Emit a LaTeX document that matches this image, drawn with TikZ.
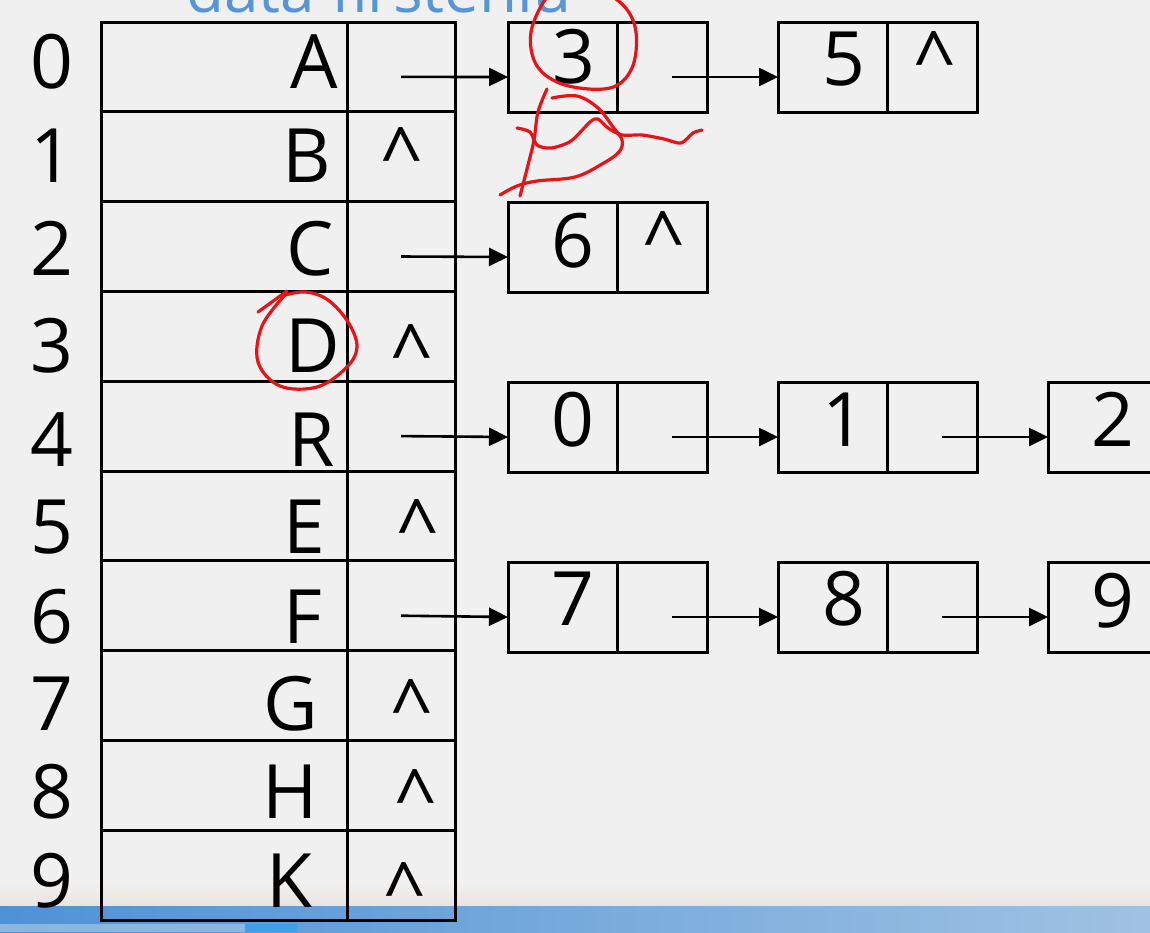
\documentclass[tikz,border=0pt]{standalone}
\usepackage{fontspec}
\setmainfont{Open Sans}
\usetikzlibrary{arrows.meta}
\definecolor{bg}{RGB}{240,240,240}
\definecolor{inkred}{RGB}{230,20,25}
\definecolor{titleblue}{RGB}{86,150,215}
\definecolor{bandA}{RGB}{78,146,214}
\definecolor{bandB}{RGB}{160,194,226}
\definecolor{stripA}{RGB}{138,182,224}
\definecolor{stripB}{RGB}{62,160,232}
\definecolor{fadeA}{RGB}{242,242,242}
\definecolor{fadeB}{RGB}{232,228,224}
\begin{document}
\begin{tikzpicture}[x=1pt,y=-1pt,
  tcell/.style={draw=black,line width=3pt,inner sep=0pt,outer sep=0pt,minimum height=89.8pt},
  lcell/.style={draw=black,line width=3pt,inner sep=0pt,outer sep=0pt,minimum height=90pt},
  big/.style={font=\fontsize{75}{80}\selectfont,inner sep=0pt,outer sep=0pt,text=black},
  arr/.style={line width=2.6pt,-{Triangle[length=19pt,width=18pt]}},
  ink/.style={draw=inkred,line width=3.2pt,line cap=round,line join=round}
]
\useasboundingbox (0,0) rectangle (1150,932);
\clip (0,0) rectangle (1150,932);
\fill[bg] (0,0) rectangle (1150,932);
% bottom band
\shade[top color=fadeA,bottom color=fadeB] (0,880) rectangle (1150,906);
\shade[left color=bandA,right color=bandB] (0,906) rectangle (1150,932);
\fill[stripA] (0,924) rectangle (245,932);
\fill[stripB] (245,924) rectangle (297,932);
% title (cut off at the top, as in the reference)
\node[font=\fontsize{62}{66}\selectfont,text=titleblue,anchor=base west,inner sep=0pt] (title) at (186,12) {data firstenlu};
% table
\foreach \i in {0,...,9} {
  \pgfmathsetmacro\cy{22+89.8*\i+44.9}
  \node[tcell,minimum width=246pt] (d\i) at (224,\cy) {};
  \node[tcell,minimum width=108pt] (p\i) at (401,\cy) {};
}
\foreach \i/\L/\b/\r in {0/A/88/338,1/B/182/331,2/C/275/334,3/D/372/340,4/R/466/335,5/E/553/325,6/F/643/322,7/G/730/318,8/H/818/318,9/K/907/313} {
  \node[big,anchor=base] (n\i) at (52,\b) {\i};
  \node[big,anchor=base east] (l\i) at (\r,\b) {\L};
}
% null pointers in the table
\foreach \i/\x/\b in {1/402/181,3/412/378,5/418/553,7/412/733,8/416/823,9/405/916} {
  \node[big,anchor=base] (c\i) at (\x,\b) {\textasciicircum};
}
% list nodes: data cell + pointer cell
\foreach \v/\x/\y in {3/562.5/67,5/832.5/67,6/562.5/247,0/562.5/427,1/832.5/427,2/1102.5/427,7/562.5/607,8/832.5/607,9/1102.5/607} {
  \node[lcell,minimum width=109pt] (v\v d) at (\x,\y) {};
  \node[lcell,minimum width=90pt,anchor=west] (v\v p) at (v\v d.east) {};
}
% values
\foreach \v/\x/\b in {3/574/83,5/844/85,6/573/267,0/573/446,1/844/446,2/1113/446,7/573/625,8/844/625,9/1113/627} {
  \node[big,anchor=base] (t\v) at (\x,\b) {\v};
}
\node[big,anchor=base] (c5) at (935,85) {\textasciicircum};
\node[big,anchor=base] (c6) at (664,265) {\textasciicircum};
% arrows from table
\foreach \i/\v in {0/3,2/6,4/0,6/7} {
  \draw[arr] ([yshift=-10pt]p\i.center) -- ([yshift=-10pt]v\v d.west);
}
% arrows between list nodes
\foreach \a/\b in {3/5,0/1,1/2,7/8,8/9} {
  \draw[arr] ([xshift=10pt,yshift=-10pt]v\a p.center) -- ([yshift=-10pt]v\b d.west);
}
% red handwritten marks
\draw[ink] plot[smooth cycle,tension=0.6] coordinates {(548,-4) (531,32) (537,66) (565,85) (610,88) (632,68) (636,32) (624,6) (598,-10) (570,-12)};
\draw[ink] plot[smooth,tension=0.6] coordinates {(547,89) (538,112) (534,140) (528,165) (520,196)};
\draw[ink] plot[smooth,tension=0.6] coordinates {(552,98) (577,96) (598,108) (613,127) (622,140) (619,152) (602,164) (575,177) (537,181) (517,186) (500,195)};
\draw[ink] plot[smooth,tension=0.5] coordinates {(517,128) (530,132) (537,145) (551,148) (571,141) (590,122) (598,119) (608,128) (622,135) (642,135) (664,139) (681,143) (693,133) (702,130)};
\draw[ink] (287,291) -- (258,312);
\draw[ink] plot[smooth,tension=0.6] coordinates {(285,295) (262,326) (258,362) (280,386) (317,387) (346,368) (357,347) (348,322) (328,300) (306,292) (285,295)};
\end{tikzpicture}
\end{document}
